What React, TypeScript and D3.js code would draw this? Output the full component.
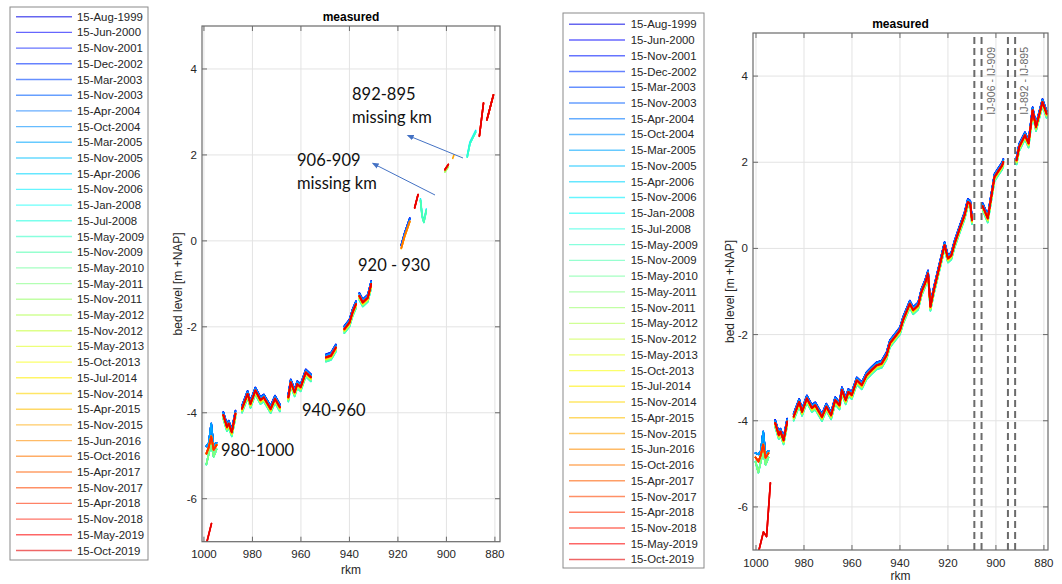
import React from "react";
import * as d3 from "d3";

const dates = [
  "15-Aug-1999","15-Jun-2000","15-Nov-2001","15-Dec-2002","15-Mar-2003","15-Nov-2003","15-Apr-2004",
  "15-Oct-2004","15-Mar-2005","15-Nov-2005","15-Apr-2006","15-Nov-2006","15-Jan-2008","15-Jul-2008",
  "15-May-2009","15-Nov-2009","15-May-2010","15-May-2011","15-Nov-2011","15-May-2012","15-Nov-2012",
  "15-May-2013","15-Oct-2013","15-Jul-2014","15-Nov-2014","15-Apr-2015","15-Nov-2015","15-Jun-2016",
  "15-Oct-2016","15-Apr-2017","15-Nov-2017","15-Apr-2018","15-Nov-2018","15-May-2019","15-Oct-2019",
];

// vertical spread of each survey relative to the latest profile (m)
const surveyShift = [
  0.07, 0.07, 0.06, 0.06, 0.06, 0.05, 0.05, 0.04, 0.02, 0.0, -0.03, -0.06, -0.09, -0.1,
  -0.1, -0.09, -0.07, -0.06, -0.05, -0.05, -0.04, -0.04, -0.03, -0.03, -0.02, -0.02, -0.01,
  -0.01, 0.0, 0.0, 0.0, -0.01, 0.0, 0.0, 0.0,
];

// main longitudinal bed profile (rkm, bed level m +NAP)
const baseKm = [
  992, 990.5, 989.8, 988.5, 987,
  984.3, 982, 980.8, 978.8, 976.7, 975.3, 972.5, 970.7, 968.7, 967, 965.2, 964.2, 962.6, 961.5,
  960.1, 958, 955.9, 953.9, 951.8, 949.7, 947.6, 945.6, 944.2, 942.1, 940, 938.7, 937.3, 935.9,
  934.5, 932.4, 931, 929.5, 928.3, 927.3, 925.9, 921.4, 920, 918.6, 917.2, 915.1, 913.1, 911.7,
  910.7, 910, 909.3, 908.3,
  905.5, 903.4, 900.6, 899.2, 897.4, 896.9,
  891.4, 890.3, 887.9, 886.4, 884.7, 883.3, 880.6, 878.9,
];
const baseLevel = [
  -4.05, -4.33, -4.25, -4.45, -4.02,
  -3.9, -3.56, -3.79, -3.48, -3.7, -3.64, -3.91, -3.67, -3.87, -3.52, -3.64, -3.29, -3.52, -3.33,
  -3.4, -3.06, -3.17, -2.94, -2.82, -2.71, -2.67, -2.48, -2.2, -2.05, -1.9, -1.66, -1.47, -1.28,
  -1.43, -1.32, -1.0, -0.8, -0.58, -1.35, -0.97, 0.08, -0.23, -0.16, 0.12, 0.46, 0.77, 1.08,
  1.04, 0.66, 0.53, 0.8,
  0.98, 0.7, 1.66, 1.78, 1.93, 2.01,
  2.05, 2.36, 2.63, 2.44, 3.21, 2.82, 3.4, 3.13,
];

// most upstream reach (rkm 1000-995), per survey group
const reach1Km = [1000.2, 999, 998, 997, 996, 994.8];
const reach1Early = [-4.75, -4.78, -4.7, -4.25, -4.78, -4.7];
const reach1Mid = [-4.95, -5.2, -4.95, -4.72, -5.02, -4.85];
const reach1Late = [-4.85, -4.95, -4.8, -4.55, -4.86, -4.75];

// deep profile of the latest surveys near rkm 1000
const deepKm = [999.2, 996.9, 995.6, 994];
const deepLevel = [-7.1, -6.58, -6.69, -5.44];

const xTicks = [1000, 980, 960, 940, 920, 900, 880];
const yTicks = [-6, -4, -2, 0, 2, 4];

// km ranges with data: right figure (all surveys)
const rightRanges: [number, number][] = [[992.5, 986.5], [984.5, 909.9], [906, 896.5], [892, 878.5]];
// left figure: ranges and the surveys (index spans) shown in them
const leftRanges: [number, number][] = [
  [992.5, 986.5], [984.5, 968.5], [965.5, 955.5], [950, 945.5], [942.5, 937], [936, 930.5],
  [918.7, 915], [913.5, 911.5], [910.8, 908], [901, 899], [897.5, 896.5], [891.5, 887.5],
  [886.5, 884.5], [883.5, 880.5],
];
const leftSurveys: [number, number][][] = [
  [[0, 34]], [[0, 34]], [[0, 34]], [[0, 34]], [[0, 34]], [[0, 34]],
  [[0, 6], [25, 28]], [[31, 34]], [[11, 15]], [[17, 19], [31, 34]], [[26, 26]], [[11, 14]],
  [[31, 34]], [[29, 34]],
];

const jet = (t: number) => {
  const c = (v: number) => Math.max(0, Math.min(1, v));
  const r = c(1.5 - Math.abs(4 * t - 3));
  const g = c(1.5 - Math.abs(4 * t - 2));
  const b = c(1.5 - Math.abs(4 * t - 1));
  return d3.rgb(r * 255, g * 255, b * 255).formatHex();
};
const colorOf = (i: number) => jet(0.1 + (0.8 * i) / (dates.length - 1));

type Pt = [number, number];

function baseIn(range: [number, number], shift: number): Pt[] {
  const pts: Pt[] = [];
  baseKm.forEach((k, j) => {
    if (k <= range[0] && k >= range[1]) pts.push([k, baseLevel[j] + shift]);
  });
  return pts;
}

function reach1For(i: number, lo: number): Pt[] {
  const arr = i <= 8 ? reach1Early : i <= 17 ? reach1Mid : reach1Late;
  return reach1Km.map((k, j) => [k, arr[j]] as Pt).filter((p) => p[0] <= lo);
}

function rightSeries(i: number): Pt[][] {
  const segs: Pt[][] = [];
  if (i <= 31) segs.push(reach1For(i, 1001));
  else segs.push(deepKm.map((k, j) => [k, deepLevel[j]] as Pt));
  rightRanges.forEach((r) => segs.push(baseIn(r, surveyShift[i])));
  return segs;
}

function leftSeries(i: number): Pt[][] {
  const segs: Pt[][] = [];
  if (i <= 31) segs.push(reach1For(i, 999.5));
  else segs.push(deepKm.map((k, j) => [k, deepLevel[j]] as Pt).filter((p) => p[0] >= 996.8));
  leftRanges.forEach((r, s) => {
    if (leftSurveys[s].some(([a, b]) => i >= a && i <= b)) segs.push(baseIn(r, surveyShift[i]));
  });
  return segs;
}

type Cfg = {
  id: string;
  legend: { x: number; y: number; w: number; h: number; row0: number; dy: number; lx0: number; lx1: number; tx: number };
  ax: { l: number; t: number; r: number; b: number };
  xDomain: [number, number];
  titleY: number;
  ylabX: number;
  xtY: number;
  rkmY: number;
  series: (i: number) => Pt[][];
};

const FONT = "'Liberation Sans', Arial, Helvetica, sans-serif";

function Panel({ cfg, children }: { cfg: Cfg; children?: React.ReactNode }) {
  const { ax, legend } = cfg;
  const x = d3.scaleLinear().domain(cfg.xDomain).range([ax.l, ax.r]);
  const y = d3.scaleLinear().domain([-7, 5]).range([ax.b, ax.t]);
  const line = d3
    .line<Pt>()
    .x((d) => x(d[0]))
    .y((d) => y(d[1]));
  const tick = 5;
  return (
    <g>
      {/* legend */}
      <rect x={legend.x} y={legend.y} width={legend.w} height={legend.h} fill="#fff" stroke="#8a8a8a" strokeWidth={1} />
      {dates.map((d, i) => {
        const yy = legend.row0 + i * legend.dy;
        return (
          <g key={d}>
            <line x1={legend.lx0} x2={legend.lx1} y1={yy} y2={yy} stroke={colorOf(i)} strokeWidth={1.4} strokeOpacity={0.6} />
            <text x={legend.tx} y={yy + 4} fontSize={11.4} fontFamily={FONT} fill="#262626">{d}</text>
          </g>
        );
      })}
      {/* grid */}
      {xTicks.map((t) => (
        <line key={"gx" + t} x1={x(t)} x2={x(t)} y1={ax.t} y2={ax.b} stroke="#e3e3e3" strokeWidth={1} />
      ))}
      {yTicks.map((t) => (
        <line key={"gy" + t} x1={ax.l} x2={ax.r} y1={y(t)} y2={y(t)} stroke="#e3e3e3" strokeWidth={1} />
      ))}
      {children}
      {/* data */}
      <clipPath id={"clip" + cfg.id}>
        <rect x={ax.l} y={ax.t} width={ax.r - ax.l} height={ax.b - ax.t} />
      </clipPath>
      <g clipPath={`url(#clip${cfg.id})`}>
        {dates.map((d, i) =>
          cfg.series(i).map((seg, s) =>
            seg.length > 1 ? (
              <path key={d + s} d={line(seg) || ""} fill="none" stroke={colorOf(i)} strokeWidth={1.6} strokeLinejoin="round" strokeLinecap="round" />
            ) : null
          )
        )}
      </g>
      {/* box and ticks */}
      <rect x={ax.l} y={ax.t} width={ax.r - ax.l} height={ax.b - ax.t} fill="none" stroke="#6a6a6a" strokeWidth={1.2} />
      {xTicks.map((t) => (
        <g key={"tx" + t}>
          <line x1={x(t)} x2={x(t)} y1={ax.b} y2={ax.b - tick} stroke="#6a6a6a" />
          <line x1={x(t)} x2={x(t)} y1={ax.t} y2={ax.t + tick} stroke="#6a6a6a" />
          <text x={x(t)} y={cfg.xtY} textAnchor="middle" fontSize={11.5} fontFamily={FONT} fill="#262626">{t}</text>
        </g>
      ))}
      {yTicks.map((t) => (
        <g key={"ty" + t}>
          <line x1={ax.l} x2={ax.l + tick} y1={y(t)} y2={y(t)} stroke="#6a6a6a" />
          <line x1={ax.r} x2={ax.r - tick} y1={y(t)} y2={y(t)} stroke="#6a6a6a" />
          <text x={ax.l - 5} y={y(t) + 4} textAnchor="end" fontSize={11.5} fontFamily={FONT} fill="#262626">{t}</text>
        </g>
      ))}
      <text x={(ax.l + ax.r) / 2} y={cfg.titleY} textAnchor="middle" fontSize={12} fontWeight="bold" fontFamily={FONT} fill="#000">measured</text>
      <text x={(ax.l + ax.r) / 2} y={cfg.rkmY} textAnchor="middle" fontSize={12} fontFamily={FONT} fill="#262626">rkm</text>
      <text
        transform={`translate(${cfg.ylabX},${(ax.t + ax.b) / 2}) rotate(-90)`}
        textAnchor="middle"
        fontSize={12}
        fontFamily={FONT}
        fill="#262626"
      >
        bed level [m +NAP]
      </text>
    </g>
  );
}

const leftCfg: Cfg = {
  id: "L",
  legend: { x: 10, y: 7, w: 138, h: 553, row0: 16.7, dy: 15.7, lx0: 16, lx1: 72, tx: 77 },
  ax: { l: 202, t: 26, r: 500, b: 541.7 },
  xDomain: [1000.8, 877.9],
  titleY: 21,
  ylabX: 182,
  xtY: 558,
  rkmY: 574,
  series: leftSeries,
};

const rightCfg: Cfg = {
  id: "R",
  legend: { x: 563, y: 13, w: 141, h: 555, row0: 24.3, dy: 15.74, lx0: 569, lx1: 625, tx: 630.7 },
  ax: { l: 753, t: 33, r: 1048, b: 550 },
  xDomain: [1001.25, 878.3],
  titleY: 28,
  ylabX: 734,
  xtY: 567,
  rkmY: 580,
  series: rightSeries,
};

const missingKm = [909, 906, 895, 892];
const missingLabels = [
  { text: "IJ-906 - IJ-909", at: 906 },
  { text: "IJ-892 - IJ-895", at: 892 },
];

const annFont = "Lato, 'Open Sans', sans-serif";
const annotations = [
  { text: "892-895", x: 352, y: 100 },
  { text: "missing km", x: 352, y: 123 },
  { text: "906-909", x: 297, y: 166 },
  { text: "missing km", x: 297, y: 189 },
  { text: "920 - 930", x: 358, y: 271 },
  { text: "940-960", x: 302, y: 416 },
  { text: "980-1000", x: 221, y: 456 },
];

export default function App() {
  const xr = d3.scaleLinear().domain(rightCfg.xDomain).range([rightCfg.ax.l, rightCfg.ax.r]);
  return (
    <svg width={1062} height={584} style={{ position: "fixed", left: 0, top: 0, background: "#fff" }}>
      <rect width={1062} height={584} fill="#fff" />
      <defs>
        <marker id="arr" viewBox="0 0 10 10" refX={8} refY={5} markerWidth={7} markerHeight={7} orient="auto-start-reverse">
          <path d="M0,1 L10,5 L0,9 z" fill="#4472C4" />
        </marker>
      </defs>
      <Panel cfg={leftCfg} />
      <Panel cfg={rightCfg}>
        {missingKm.map((k) => (
          <line key={k} x1={xr(k)} x2={xr(k)} y1={rightCfg.ax.t + 4} y2={rightCfg.ax.b} stroke="#6b6b6b" strokeWidth={2} strokeDasharray="7,4" />
        ))}
        {missingLabels.map((m) => (
          <text
            key={m.text}
            transform={`translate(${xr(m.at) + 13},47) rotate(-90)`}
            textAnchor="end"
            fontSize={10.5}
            fontFamily={FONT}
            fill="#6b6b6b"
          >
            {m.text}
          </text>
        ))}
      </Panel>
      {annotations.map((a, i) => (
        <text key={i} x={a.x} y={a.y} fontSize={16.5} fontFamily={annFont} fill="#111">{a.text}</text>
      ))}
      <line x1={463} y1={158} x2={408} y2={135.5} stroke="#4472C4" strokeWidth={1} markerEnd="url(#arr)" />
      <line x1={435} y1={195} x2={373} y2={163.5} stroke="#4472C4" strokeWidth={1} markerEnd="url(#arr)" />
    </svg>
  );
}
